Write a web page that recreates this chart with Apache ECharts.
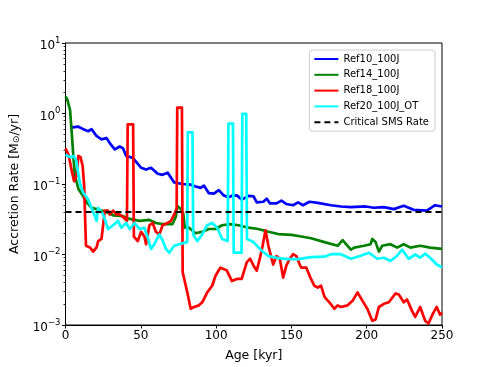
<!DOCTYPE html>
<html>
<head>
<meta charset="utf-8">
<script src="https://cdn.jsdelivr.net/npm/echarts@6/dist/echarts.min.js"></script>
<style>
  html, body { margin: 0; padding: 0; background: #fff; }
  #chart { width: 491px; height: 367px; }
</style>
</head>
<body>
<div id="chart"></div>
<script>
// [age kyr, accretion rate Msun/yr]
const ref10 = [[3,0.63],[8.6,0.65],[11.8,0.6],[15.1,0.56],[17.3,0.6],[20.6,0.48],[23.9,0.43],[27.2,0.45],[29.4,0.38],[32.7,0.31],[36,0.34],[38.2,0.32],[40.3,0.25],[44.7,0.235],[50.2,0.17],[53.5,0.16],[56.8,0.17],[61.2,0.14],[64.5,0.135],[67.8,0.145],[72.2,0.105],[77.6,0.1],[83,0.098],[86.4,0.092],[89.7,0.088],[91.9,0.095],[95.2,0.074],[98.5,0.073],[101.8,0.082],[105,0.069],[108.3,0.065],[110.5,0.068],[113.8,0.069],[117.1,0.06],[121.5,0.068],[124.8,0.067],[127,0.055],[131.4,0.056],[133.6,0.062],[135.8,0.053],[140.1,0.053],[143.4,0.058],[146.7,0.052],[151.1,0.05],[154.4,0.055],[157.7,0.05],[162,0.056],[167.5,0.054],[176.3,0.05],[182.9,0.048],[189.5,0.047],[199.3,0.048],[204.8,0.046],[211.4,0.047],[218,0.044],[224.6,0.049],[231.1,0.043],[240,0.042],[245.4,0.05],[250,0.048]];

const ref14 = [[0,1.75],[1.1,1.6],[3,1.13],[4,0.59],[5.2,0.25],[6.3,0.13],[8.6,0.085],[11.8,0.067],[14,0.055],[17.3,0.046],[20.6,0.044],[24,0.042],[27.2,0.04],[31.6,0.036],[38.2,0.035],[42.6,0.032],[49.1,0.03],[55.7,0.031],[60,0.028],[64.5,0.027],[71,0.027],[73.2,0.034],[74.3,0.049],[76.5,0.044],[78.2,0.038],[79.2,0.024],[82,0.024],[86.4,0.02],[90.8,0.021],[95.2,0.023],[99.6,0.023],[104,0.026],[109.4,0.027],[114.9,0.026],[121.5,0.024],[128,0.023],[134.7,0.021],[141.2,0.0195],[150,0.019],[156.6,0.018],[163,0.017],[172,0.015],[180.7,0.0133],[184,0.016],[187.3,0.0133],[189.5,0.0117],[191.7,0.0125],[198.2,0.0133],[202.6,0.014],[203.7,0.0166],[205.9,0.015],[208.1,0.011],[210.3,0.0133],[215.8,0.014],[220.2,0.0125],[224.6,0.014],[229,0.0125],[235.5,0.0133],[242.1,0.0125],[250,0.012]];

const ref18 = [[0,0.32],[2,0.26],[4,0.16],[5.7,0.11],[7.4,0.13],[8.5,0.25],[10,0.24],[11.4,0.18],[12.4,0.094],[12.9,0.04],[13.6,0.0133],[16.2,0.0126],[18.4,0.011],[20.6,0.0126],[21.7,0.0155],[23.9,0.0166],[26.1,0.042],[28.3,0.042],[29.4,0.037],[31.6,0.042],[33.8,0.037],[36,0.037],[38.2,0.034],[40.8,0.03],[41.3,0.7],[44.9,0.7],[45.4,0.018],[48,0.0155],[50.2,0.021],[52.4,0.018],[53.5,0.014],[55.7,0.026],[57.9,0.028],[60,0.021],[62.3,0.0193],[64.5,0.026],[67.8,0.028],[70,0.03],[72.2,0.037],[73.8,0.045],[74.2,1.21],[77.3,1.21],[77.8,0.0056],[80.9,0.0029],[83.1,0.0017],[85.3,0.0018],[88.6,0.0019],[90.8,0.0021],[94.1,0.0029],[97.4,0.0036],[99.6,0.005],[102.8,0.0065],[104,0.0068],[107,0.006],[110.5,0.0042],[113.8,0.0045],[117,0.0045],[120.4,0.0078],[122.6,0.0087],[124.8,0.007],[127,0.0059],[129.2,0.0091],[130.8,0.013],[132.8,0.022],[134.7,0.0133],[137.9,0.0072],[140.1,0.0095],[142.3,0.0087],[144.5,0.0047],[146.7,0.007],[148.9,0.0087],[151.1,0.0101],[153.3,0.0095],[155.5,0.0072],[156.6,0.0065],[159.9,0.0065],[163,0.0045],[165.3,0.0036],[167.5,0.0034],[169.7,0.0036],[172,0.0025],[175.2,0.0021],[178.5,0.0017],[180.7,0.0019],[182.9,0.0018],[187.3,0.0019],[190.6,0.0022],[193.9,0.0029],[197.2,0.0022],[200.4,0.0017],[203.7,0.00115],[205.9,0.0012],[208.1,0.0018],[211.4,0.002],[214.7,0.0021],[219.1,0.0028],[221.3,0.0027],[224.6,0.0021],[226.8,0.0023],[230,0.0016],[232.2,0.0013],[235.5,0.0018],[238.8,0.00115],[241,0.00105],[244.3,0.0015],[246.5,0.0018],[248.7,0.0014],[250,0.0015]];

const ref20 = [[0,0.26],[1.1,0.25],[3.3,0.24],[5.5,0.25],[7.3,0.21],[8,0.16],[9.7,0.1],[11.8,0.075],[15.1,0.06],[17.3,0.046],[19.5,0.035],[20.6,0.03],[21.7,0.046],[23,0.049],[25,0.037],[28.3,0.023],[31.6,0.026],[34.9,0.03],[37,0.024],[40.3,0.028],[42.6,0.023],[45.9,0.028],[49.1,0.023],[52.4,0.024],[54.6,0.0174],[56.8,0.012],[59,0.014],[62.3,0.0193],[64.5,0.0158],[66.7,0.012],[68.9,0.0106],[72.2,0.0133],[75.5,0.014],[78.7,0.0146],[80.8,0.015],[81.2,0.54],[84.3,0.54],[84.8,0.019],[87.5,0.0155],[90.8,0.0193],[94,0.026],[97.4,0.028],[100.7,0.024],[104,0.0166],[107.7,0.0155],[108.2,0.72],[111.2,0.72],[111.7,0.0106],[113.8,0.0106],[116.9,0.0106],[117.4,0.99],[120,0.99],[120.5,0.0166],[124.8,0.015],[130.3,0.0113],[134.7,0.0095],[141.2,0.0089],[147.8,0.0086],[154.4,0.0086],[163,0.0092],[172,0.0093],[176.3,0.0101],[182.9,0.0101],[189.5,0.0087],[196,0.0096],[201.5,0.0106],[207,0.0087],[211.4,0.009],[215.8,0.0081],[220.2,0.0096],[223.5,0.0117],[227.9,0.0087],[232.2,0.01],[235.5,0.009],[238.8,0.0103],[242.1,0.009],[246.5,0.0072],[250,0.0066]];

const criticalRate = 0.04;
const ageRange = [0, 250];
const tickExp = { 0.001: '−3', 0.01: '−2', 0.1: '−1', 1: '0', 10: '1' };
const minorTicks = [];
[0.001, 0.01, 0.1, 1].forEach(function (d) {
  for (let k = 2; k <= 9; k++) minorTicks.push(+(d * k).toPrecision(3));
});

const seriesNames = ['Ref10_100J', 'Ref14_100J', 'Ref18_100J', 'Ref20_100J_OT', 'Critical SMS Rate'];
const seriesColors = ['#0000ff', '#008000', '#ff0000', '#00ffff', '#000000'];
const seriesData = [ref10, ref14, ref18, ref20, ageRange.map(function (a) { return [a, criticalRate]; })];

const font = 'DejaVu Sans';
let myChart = echarts.init(document.getElementById('chart'), null, { renderer: 'canvas' });

let series = seriesNames.map(function (name, i) {
  return {
    name: name,
    type: 'line',
    data: seriesData[i],
    symbol: 'none',
    animation: false,
    lineStyle: {
      color: seriesColors[i],
      width: i === 4 ? 2 : 2.7,
      type: i === 4 ? [6, 4] : 'solid',
      join: 'round'
    },
    itemStyle: { color: seriesColors[i] },
    z: i === 4 ? 5 : 2 + i * 0.1
  };
});

let option = {
  animation: false,
  grid: {
    left: 62, right: 49, top: 43, bottom: 41,
    show: true, borderColor: '#000', borderWidth: 1
  },
  legend: {
    orient: 'vertical',
    right: 56, top: 50,
    itemWidth: 24, itemHeight: 10,
    itemGap: 5.8,
    itemStyle: { opacity: 0 },
    padding: [4, 6, 4, 4],
    backgroundColor: '#fff',
    borderColor: '#cccccc', borderWidth: 1, borderRadius: 3,
    textStyle: { fontFamily: font, fontSize: 10, color: '#000' },
    data: seriesNames
  },
  xAxis: {
    type: 'value',
    min: 0, max: 250, interval: 50,
    name: 'Age [kyr]',
    nameLocation: 'middle',
    nameGap: 24,
    nameTextStyle: { fontFamily: font, fontSize: 12.5, color: '#000' },
    axisLine: { lineStyle: { color: '#000' } },
    axisTick: { inside: false, length: 3.5, lineStyle: { color: '#000' } },
    axisLabel: { fontFamily: font, fontSize: 12, color: '#000', margin: 5 },
    splitLine: { show: false }
  },
  yAxis: [{
    type: 'log',
    logBase: 10,
    min: 0.001, max: 10,
    name: '{a|Accretion Rate [M}{s|⊙}{a|/yr]}',
    nameLocation: 'middle',
    nameGap: 44,
    nameTextStyle: {
      rich: {
        a: { fontFamily: font, fontSize: 12.5, color: '#000' },
        s: { fontFamily: font, fontSize: 9, color: '#000', padding: [5, 0, 0, 0] }
      }
    },
    axisLine: { show: true, lineStyle: { color: '#000' } },
    axisTick: { inside: false, length: 3.5, lineStyle: { color: '#000' } },
    axisLabel: {
      margin: 5,
      formatter: function (v) {
        let key = +(+v).toPrecision(3);
        return '{b|10}{e|' + tickExp[key] + '}';
      },
      rich: {
        b: { fontFamily: font, fontSize: 12, color: '#000', padding: [6, 0, 0, 0] },
        e: { fontFamily: font, fontSize: 8.5, color: '#000', padding: [0, 0, 5, 0] }
      }
    },
    splitLine: { show: false },
    minorTick: { show: false }
  }, {
    type: 'log',
    logBase: 10,
    min: 0.001, max: 10,
    position: 'left',
    axisLine: { show: false },
    axisLabel: { show: false },
    axisTick: {
      show: true, inside: false, length: 2,
      customValues: minorTicks,
      lineStyle: { color: '#000', width: 0.8 }
    },
    splitLine: { show: false }
  }],
  series: series
};
myChart.setOption(option);
</script>
</body>
</html>
